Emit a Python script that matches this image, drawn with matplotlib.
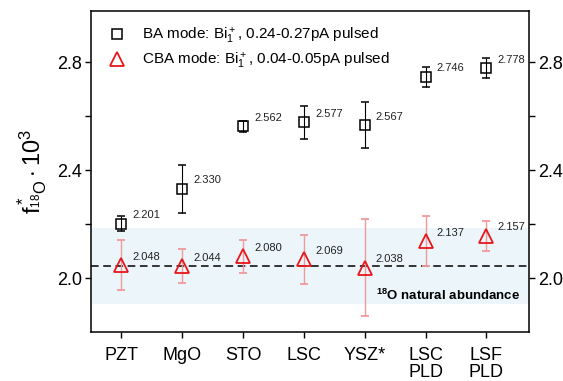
import numpy as np
import matplotlib
matplotlib.use('Agg')
import matplotlib.pyplot as plt
from matplotlib.lines import Line2D

plt.rcParams['font.family'] = ['Liberation Sans', 'DejaVu Sans']
plt.rcParams['mathtext.fontset'] = 'custom'
plt.rcParams['mathtext.rm'] = 'Liberation Sans'
plt.rcParams['mathtext.it'] = 'Liberation Sans:italic'
plt.rcParams['mathtext.bf'] = 'Liberation Sans:bold'

samples = ['PZT', 'MgO', 'STO', 'LSC', 'YSZ*', 'LSC\nPLD', 'LSF\nPLD']

ba_vals = [2.201, 2.330, 2.562, 2.577, 2.567, 2.746, 2.778]
ba_err = [0.028, 0.088, 0.020, 0.060, 0.085, 0.037, 0.037]

cba_vals = [2.048, 2.044, 2.080, 2.069, 2.038, 2.137, 2.157]
cba_err = [0.093, 0.063, 0.060, 0.092, 0.180, 0.093, 0.055]

nat_abund = 2.045
nat_band = 0.14

RED = '#e8161b'
x = np.arange(len(samples))

fig = plt.figure(figsize=(5.63, 3.81), dpi=100)
ax = fig.add_axes([91/563, 1 - 332/381, (529-91)/563, (332-11)/381])

ax.axhspan(nat_abund - nat_band, nat_abund + nat_band, color='#ecf6fa', lw=0, zorder=0)
ax.axhline(nat_abund, color='black', ls=(0, (5, 3)), lw=1.1, zorder=1)
ax.text(6.55, 1.935, r'$^{\mathbf{18}}$O natural abundance', fontsize=9.5,
        fontweight='bold', ha='right', va='center')

ax.errorbar(x, ba_vals, yerr=ba_err, fmt='s', ms=7, mfc='none', mec='black',
            mew=1.1, ecolor='black', elinewidth=0.8, capsize=3, capthick=0.8,
            zorder=3)
ax.errorbar(x, cba_vals, yerr=cba_err, fmt='^', ms=10, mfc='none', mec=RED,
            mew=1.3, ecolor='#f09a9a', elinewidth=1.0, capsize=3, capthick=1.0,
            zorder=3)

for xi, v in zip(x, ba_vals):
    ax.annotate(f'{v:.3f}', (xi, v), xytext=(8, 4), textcoords='offset points',
                fontsize=8, color='#222222')
for xi, v in zip(x, cba_vals):
    ax.annotate(f'{v:.3f}', (xi, v), xytext=(8, 4), textcoords='offset points',
                fontsize=8, color='#222222')

ax.set_xlim(-0.5, 6.7)
ax.set_ylim(1.8, 2.99)
ax.set_xticks(x)
ax.set_xticklabels(samples, fontsize=13, linespacing=1.05)
ax.set_yticks([2.0, 2.4, 2.8])
ax.set_yticks([2.2, 2.6], minor=True)
ax.set_yticklabels(['2.0', '2.4', '2.8'], fontsize=13)
ax.tick_params(axis='both', which='both', direction='out', length=4.5, width=1)
ax.tick_params(axis='y', which='both', right=True, labelright=True, pad=2)
ax.tick_params(axis='x', pad=6)
for s in ax.spines.values():
    s.set_linewidth(1.1)

ax.set_ylabel(r'f$^*_{^{18}\mathrm{O}}\cdot10^3$', fontsize=17, labelpad=6)

handles = [
    Line2D([], [], ls='none', marker='s', ms=7, mfc='none', mec='black', mew=1.1),
    Line2D([], [], ls='none', marker='^', ms=10, mfc='none', mec=RED, mew=1.3),
]
labels = [r'BA mode: Bi$_1^+$, 0.24-0.27pA pulsed',
          r'CBA mode: Bi$_1^+$, 0.04-0.05pA pulsed']
ax.legend(handles, labels, loc='upper left', frameon=False, fontsize=11,
          handletextpad=0.9, borderaxespad=0.4, labelspacing=0.35,
          handlelength=1.5, borderpad=0.55)

fig.savefig('out.png', dpi=100)
